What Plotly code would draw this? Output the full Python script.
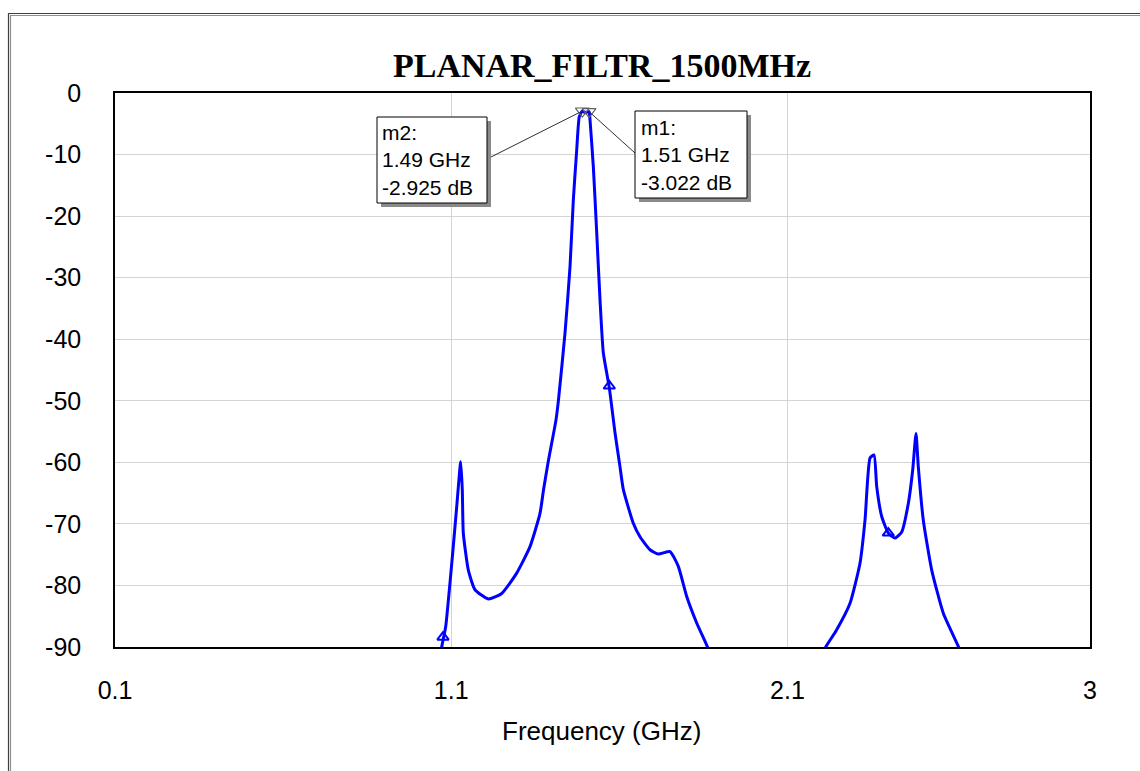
import plotly.graph_objects as go

# ---- data ----
freq_ghz = [1.040, 1.061, 1.0756, 1.0836, 1.1053, 1.1164, 1.1283, 1.133, 1.136, 1.1509,
            1.1708, 1.2104, 1.2502, 1.2948, 1.3344, 1.3641, 1.3745, 1.3879, 1.4117, 1.419,
            1.4385, 1.4534, 1.4632, 1.4733, 1.481, 1.49, 1.4995, 1.51, 1.5129, 1.5227,
            1.5328, 1.5426, 1.5524, 1.5703, 1.5872, 1.602, 1.6119, 1.6416, 1.6616, 1.6913,
            1.716, 1.7508, 1.7755, 1.8005, 1.8302, 1.86, 1.8757, 1.95, 2.08, 2.191,
            2.2118, 2.2466, 2.2862, 2.3159, 2.3308, 2.3457, 2.3576, 2.3656, 2.3805, 2.4001,
            2.42, 2.44, 2.4597, 2.4727, 2.4825, 2.4893, 2.5042, 2.5292, 2.5637, 2.6083,
            2.628, 2.70]
s21_db = [-97.0, -92.9, -88.9, -86.7, -74.2, -67.2, -59.9, -64.5, -71.5, -77.5,
          -80.7, -82.2, -81.3, -78.0, -73.7, -68.3, -64.5, -60.1, -53.1, -49.9,
          -39.0, -28.2, -17.4, -9.26, -3.85, -2.925, -3.2, -3.022, -4.39, -11.97,
          -22.7, -33.6, -42.2, -47.9, -55.2, -60.7, -64.4, -69.9, -72.1, -74.2,
          -74.9, -74.5, -76.9, -81.8, -86.1, -89.7, -91.8, -100.0, -100.0, -92.9,
          -90.2, -87.2, -82.9, -76.4, -69.4, -59.3, -58.8, -63.95, -68.8, -71.5,
          -72.3, -71.3, -66.65, -61.2, -55.3, -60.7, -69.4, -77.5, -84.5, -89.9,
          -92.9, -100.0]

tri_freq = [1.0756, 1.5703, 2.4001]
tri_db = [-88.4, -47.6, -71.5]

marker_names = ["m2", "m1"]
marker_freq = [1.49, 1.51]
marker_db = [-2.925, -3.022]

x_tickvals = [0.1, 1.1, 2.1, 3]
x_ticktext = ["0.1", "1.1", "2.1", "3"]
y_tickvals = [0, -10, -20, -30, -40, -50, -60, -70, -80, -90]
y_ticktext = ["0", "-10", "-20", "-30", "-40", "-50", "-60", "-70", "-80", "-90"]

title_text = "PLANAR_FILTR_1500MHz"
x_title = "Frequency (GHz)"

# ---- layout geometry ----
W, H = 1140, 771
L, R, T, B = 115, 1090, 93, 647
XMIN, XMAX, YMIN, YMAX = 0.1, 3.0, -90.0, 0.0


def px2x(px):
    return XMIN + (px - L) / (R - L) * (XMAX - XMIN)


def py2y(py):
    return YMAX - (py - T) / (B - T) * (YMAX - YMIN)


def pxp(px):
    return (px - L) / (R - L)


def pyp(py):
    return (B - py) / (B - T)


SANS = "Liberation Sans, Arial"

fig = go.Figure()
fig.add_trace(go.Scatter(x=freq_ghz, y=s21_db, mode="lines",
                         line=dict(color="#0000FF", width=3, shape="spline", smoothing=0.5),
                         hoverinfo="skip", showlegend=False))
fig.add_trace(go.Scatter(x=tri_freq, y=tri_db, mode="markers",
                         marker=dict(symbol="triangle-up-open", size=10, color="#0000FF",
                                     line=dict(width=2, color="#0000FF")),
                         showlegend=False, cliponaxis=False))
fig.add_trace(go.Scatter(x=marker_freq, y=marker_db, mode="markers",
                         marker=dict(symbol="triangle-down-open", size=12, color="#606060",
                                     line=dict(width=1.2, color="#606060")),
                         showlegend=False, cliponaxis=False))

shapes = []
# outer window frame
shapes.append(dict(type="rect", xref="paper", yref="paper",
                   x0=pxp(8.5), x1=pxp(1200), y0=pyp(900), y1=pyp(13.5),
                   line=dict(color="#404040", width=1.2)))
shapes.append(dict(type="rect", xref="paper", yref="paper",
                   x0=pxp(10.5), x1=pxp(1200), y0=pyp(900), y1=pyp(15.5),
                   line=dict(color="#909090", width=1.2)))

# marker boxes (box px coords: left, top, right, bottom), leader start px,
# text left px and text block centre px
boxes = [
    dict(box=(377, 117, 487, 203), lead=(491, 157), tx=381, ty=160, idx=0),
    dict(box=(635, 111, 747, 198), lead=(635, 153), tx=640, ty=155, idx=1),
]
annotations = []
for b in boxes:
    x0, y0, x1, y1 = b["box"]
    i = b["idx"]
    shapes.append(dict(type="line", xref="x", yref="y",
                       x0=px2x(b["lead"][0]), y0=py2y(b["lead"][1]),
                       x1=marker_freq[i], y1=marker_db[i],
                       line=dict(color="#303030", width=1)))
    shapes.append(dict(type="rect", xref="paper", yref="paper",
                       x0=pxp(x0 + 4), x1=pxp(x1 + 4), y0=pyp(y1 + 4), y1=pyp(y0 + 4),
                       fillcolor="#8a8a8a", line=dict(width=0)))
    shapes.append(dict(type="rect", xref="paper", yref="paper",
                       x0=pxp(x0), x1=pxp(x1), y0=pyp(y1), y1=pyp(y0),
                       fillcolor="white", line=dict(color="black", width=1)))
    txt = "<br>".join([f"{marker_names[i]}:", f"{marker_freq[i]:.2f} GHz",
                       f"{marker_db[i]:.3f} dB"])
    annotations.append(dict(xref="paper", yref="paper", x=pxp(b["tx"]), y=pyp(b["ty"]),
                            xanchor="left", yanchor="middle", align="left",
                            showarrow=False, text=txt, borderpad=0,
                            font=dict(family=SANS, size=21, color="black")))

annotations.append(dict(xref="paper", yref="paper", x=pxp(601), y=pyp(731),
                        xanchor="center", yanchor="middle", showarrow=False, text=x_title,
                        font=dict(family=SANS, size=26, color="black")))

fig.update_layout(
    width=W, height=H,
    margin=dict(l=L, r=W - R, t=T, b=H - B, pad=0),
    paper_bgcolor="white", plot_bgcolor="white",
    title=dict(text=f"<b>{title_text}</b>", x=602 / W,
               xanchor="center", y=1 - 65 / H, yanchor="middle", yref="container",
               font=dict(family="Liberation Serif, Times New Roman", size=34, color="black")),
    shapes=shapes, annotations=annotations,
    xaxis=dict(range=[XMIN, XMAX], tickvals=x_tickvals, ticktext=x_ticktext,
               showgrid=True, gridcolor="#d4d4d4", gridwidth=1, zeroline=False,
               showline=True, linecolor="black", linewidth=1.5, mirror=True,
               ticks="", ticklabelstandoff=20,
               tickfont=dict(family=SANS, size=25, color="black")),
    yaxis=dict(range=[YMIN, YMAX], tickvals=y_tickvals, ticktext=y_ticktext,
               showgrid=True, gridcolor="#d4d4d4", gridwidth=1, zeroline=False,
               showline=True, linecolor="black", linewidth=1.5, mirror=True,
               ticks="", ticklabelstandoff=27,
               tickfont=dict(family=SANS, size=25, color="black")),
)

fig.write_html("out.html", config={"displayModeBar": False},
               post_script="document.body.style.margin='0';document.body.style.overflow='hidden';")
